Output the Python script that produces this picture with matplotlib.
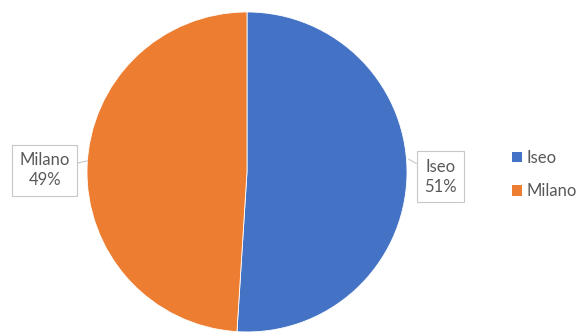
import matplotlib.pyplot as plt
from matplotlib.patches import Patch

categories = ["Iseo", "Milano"]
values = [51, 49]
colors = ["#4472C4", "#ED7D31"]

plt.rcParams['font.family'] = ['Lato', 'DejaVu Sans']

fig = plt.figure(figsize=(5.8, 3.36), dpi=100)
fig.patch.set_facecolor("white")
ax = fig.add_axes([0.15, 0.012, 320 / 580, 320 / 336])
ax.set_aspect("equal")

wedges, _ = ax.pie(values, colors=colors, startangle=90, counterclock=False,
                   wedgeprops=dict(edgecolor="white", linewidth=0.6))
ax.set_xlim(-1, 1)
ax.set_ylim(-1, 1)
ax.axis("off")

box = dict(boxstyle="square,pad=0.45", fc="white", ec="#C8C8C8", lw=0.8)
label_pos = {"Iseo": (1.21, -0.03), "Milano": (-1.265, 0.01)}
edge_pts = {"Iseo": (1.01, 0.08), "Milano": (-0.995, 0.07)}
for name, val in zip(categories, values):
    ax.annotate(f"{name}\n{val}%", xy=edge_pts[name], xytext=label_pos[name],
                ha="center", va="center", multialignment="center",
                fontsize=12, color="#595959", linespacing=1.3, bbox=box,
                annotation_clip=False,
                arrowprops=dict(arrowstyle="-", color="#C8C8C8", lw=0.8,
                                shrinkA=0, shrinkB=0))

handles = [Patch(facecolor=c, edgecolor="none") for c in colors]
fig.legend(handles, categories, loc="center left", bbox_to_anchor=(0.882, 0.48),
           frameon=False, fontsize=12, labelcolor="#595959", handlelength=0.6,
           handleheight=0.6, handletextpad=0.3, labelspacing=1.05,
           borderpad=0, borderaxespad=0)

fig.savefig("out.png", dpi=100)
